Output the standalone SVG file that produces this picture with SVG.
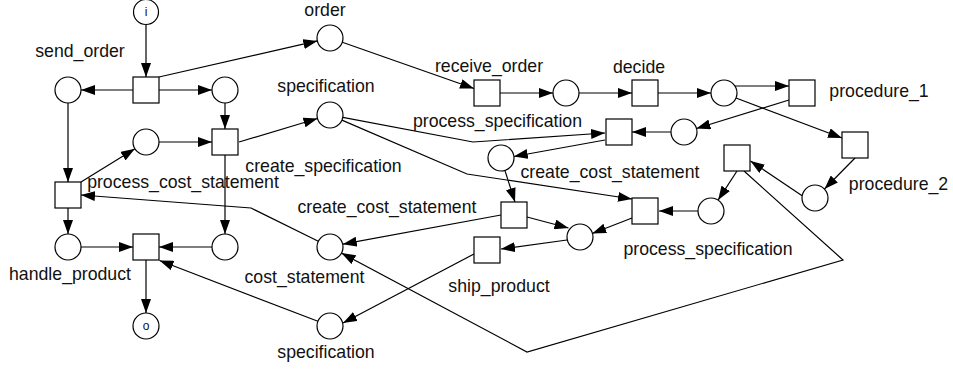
<svg xmlns="http://www.w3.org/2000/svg" width="953" height="373" viewBox="0 0 953 373">
<defs>
<marker id="arr" markerUnits="userSpaceOnUse" viewBox="0 0 14 10" refX="14" refY="5" markerWidth="14" markerHeight="10" orient="auto">
<path d="M0,0 L14,5 L0,10 z" fill="#000"/>
</marker>
<style>
.p{fill:#fff;stroke:#000;stroke-width:1.2}
.t{fill:#fff;stroke:#000;stroke-width:1.2}
.e{fill:none;stroke:#000;stroke-width:1.2;marker-end:url(#arr)}
.l{font-family:"Liberation Sans",Arial,sans-serif;font-size:17.7px;fill:#111;text-anchor:middle}
.s{font-family:"Liberation Sans",Arial,sans-serif;font-size:12px;fill:#111;text-anchor:middle}
</style>
</defs>
<rect width="953" height="373" fill="#fff"/>
<g id="connectors">
<line class="e" x1="146" y1="24.5" x2="146" y2="77"/>
<line class="e" x1="133" y1="90" x2="81" y2="90"/>
<line class="e" x1="159" y1="90" x2="212" y2="90"/>
<line class="e" x1="159" y1="77" x2="317.3" y2="40.9"/>
<line class="e" x1="68" y1="103" x2="68" y2="182"/>
<line class="e" x1="225" y1="103" x2="225" y2="129"/>
<line class="e" x1="81" y1="182" x2="134.9" y2="148.8"/>
<line class="e" x1="159" y1="142" x2="212" y2="142"/>
<line class="e" x1="239" y1="142" x2="317.5" y2="118.5"/>
<line class="e" x1="225" y1="155" x2="225" y2="234"/>
<line class="e" x1="68" y1="208" x2="68" y2="234"/>
<line class="e" x1="81" y1="247" x2="133" y2="247"/>
<line class="e" x1="212" y1="247" x2="159" y2="247"/>
<line class="e" x1="146" y1="260" x2="146" y2="313"/>
<line class="e" x1="317.9" y1="321.3" x2="159.5" y2="260.5"/>
<line class="e" x1="342.3" y1="42.3" x2="474" y2="88.5"/>
<line class="e" x1="500" y1="93" x2="553" y2="93"/>
<line class="e" x1="579" y1="93" x2="632" y2="93"/>
<line class="e" x1="658" y1="93" x2="711" y2="93"/>
<line class="e" x1="735" y1="86" x2="789" y2="86"/>
<line class="e" x1="736" y1="98" x2="842" y2="138"/>
<line class="e" x1="789" y1="100" x2="696.4" y2="128.5"/>
<line class="e" x1="671" y1="132" x2="632" y2="132"/>
<line class="e" x1="855" y1="158" x2="824.5" y2="189"/>
<line class="e" x1="802.5" y1="196" x2="750.5" y2="161"/>
<line class="e" x1="737" y1="171" x2="718.1" y2="200.1"/>
<line class="e" x1="698" y1="211" x2="659" y2="211"/>
<polyline class="e" points="744,171 843,260 527,352 341.5,253.1"/>
<polyline class="e" points="342.8,117.4 473,142 605,133"/>
<polyline class="e" points="341.9,120.1 467,174 632,199"/>
<line class="e" x1="605" y1="140" x2="513.8" y2="156.5"/>
<line class="e" x1="504.9" y1="170.4" x2="515" y2="202"/>
<line class="e" x1="527" y1="217" x2="568.5" y2="228"/>
<line class="e" x1="501" y1="215" x2="342.8" y2="244.2"/>
<line class="e" x1="632" y1="218" x2="592.2" y2="233.5"/>
<line class="e" x1="567" y1="240" x2="501" y2="249"/>
<line class="e" x1="474" y1="254" x2="343" y2="323"/>
<polyline class="e" points="318.3,241.2 251,208 81,195"/>
</g>
<g id="p_i"><circle class="p" cx="146" cy="12" r="12.5"/><text class="s" x="146" y="16">i</text></g>
<g id="send_order"><rect class="t" x="133" y="77" width="26" height="26"/><text class="l" x="80" y="57">send_order</text></g>
<g id="p_left"><circle class="p" cx="68" cy="90" r="13"/></g>
<g id="p_right"><circle class="p" cx="225" cy="90" r="13"/></g>
<g id="p_order"><circle class="p" cx="330" cy="38" r="13"/><text class="l" x="325" y="16">order</text></g>
<g id="p_cs_in"><circle class="p" cx="146" cy="142" r="13"/></g>
<g id="create_specification"><rect class="t" x="212" y="129" width="26" height="26"/><text class="l" x="323.5" y="172">create_specification</text></g>
<g id="process_cost_statement"><rect class="t" x="55" y="182" width="26" height="26"/><text class="l" x="183" y="188">process_cost_statement</text></g>
<g id="p_handle"><circle class="p" cx="68" cy="247" r="13"/><text class="l" x="70" y="280">handle_product</text></g>
<g id="handle_product"><rect class="t" x="133" y="234" width="26" height="26"/></g>
<g id="p_join_r"><circle class="p" cx="225" cy="247" r="13"/></g>
<g id="p_o"><circle class="p" cx="146" cy="326" r="13"/><text class="s" x="146" y="330">o</text></g>
<g id="p_specification_top"><circle class="p" cx="330" cy="115" r="13"/><text class="l" x="326" y="92">specification</text></g>
<g id="receive_order"><rect class="t" x="474" y="80" width="26" height="26"/><text class="l" x="489" y="72">receive_order</text></g>
<g id="p_ro"><circle class="p" cx="566" cy="93" r="13"/></g>
<g id="decide"><rect class="t" x="632" y="80" width="26" height="26"/><text class="l" x="639" y="73">decide</text></g>
<g id="p_dec"><circle class="p" cx="724" cy="93" r="13"/></g>
<g id="procedure_1"><rect class="t" x="789" y="80" width="26" height="26"/><text class="l" x="879" y="97">procedure_1</text></g>
<g id="procedure_2"><rect class="t" x="842" y="132" width="26" height="26"/><text class="l" x="898.5" y="190">procedure_2</text></g>
<g id="p_p2"><circle class="p" cx="815" cy="198" r="13"/></g>
<g id="t_mid"><rect class="t" x="724" y="145" width="26" height="26"/></g>
<g id="p_p1"><circle class="p" cx="684" cy="132" r="13"/></g>
<g id="process_specification_1"><rect class="t" x="606" y="119" width="26" height="26"/><text class="l" x="497.5" y="127">process_specification</text></g>
<g id="p_ps1"><circle class="p" cx="501" cy="158" r="13"/><text class="l" x="610" y="178">create_cost_statement</text></g>
<g id="create_cost_statement"><rect class="t" x="501" y="202" width="26" height="26"/><text class="l" x="387" y="213">create_cost_statement</text></g>
<g id="p_ccs"><circle class="p" cx="580" cy="237" r="13"/></g>
<g id="ship_product"><rect class="t" x="474" y="237" width="26" height="26"/><text class="l" x="499" y="292">ship_product</text></g>
<g id="process_specification_2"><rect class="t" x="632" y="198" width="26" height="26"/><text class="l" x="708" y="255">process_specification</text></g>
<g id="p_ps2"><circle class="p" cx="711" cy="211" r="13"/></g>
<g id="p_cost_statement"><circle class="p" cx="330" cy="247" r="13"/><text class="l" x="304.5" y="283">cost_statement</text></g>
<g id="p_specification_bottom"><circle class="p" cx="330" cy="326" r="13"/><text class="l" x="326" y="358">specification</text></g>
</svg>
